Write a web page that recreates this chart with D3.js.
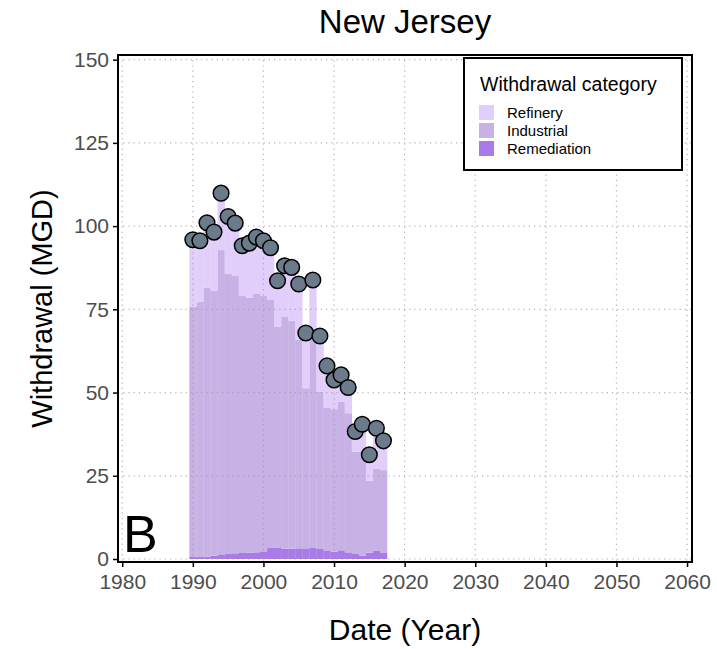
<!DOCTYPE html>
<html>
<head>
<meta charset="utf-8">
<script src="https://cdn.jsdelivr.net/npm/d3@7"></script>
<style>
  html, body { margin: 0; padding: 0; background: #fff; }
  svg { display: block; font-family: "Liberation Sans", Arial, sans-serif; }
</style>
</head>
<body>
<svg id="chart" width="717" height="649"></svg>
<script>
// Annual withdrawals (MGD) by category, New Jersey
const years = [1990, 1991, 1992, 1993, 1994, 1995, 1996, 1997, 1998, 1999,
               2000, 2001, 2002, 2003, 2004, 2005, 2006, 2007, 2008, 2009,
               2010, 2011, 2012, 2013, 2014, 2015, 2016, 2017];
const remediation = [0.6, 0.6, 0.7, 1.0, 1.2, 1.5, 1.7, 1.8, 1.9, 2.0,
                     2.3, 3.3, 3.3, 3.1, 3.1, 3.2, 3.2, 3.3, 3.0, 2.6,
                     2.2, 2.6, 2.0, 1.5, 1.0, 1.9, 2.4, 1.8];
const industrial = [75.2, 76.7, 80.8, 79.5, 91.6, 84.1, 83.3, 77.2, 76.6, 77.8,
                    76.7, 74.5, 66.5, 69.6, 68.5, 62.6, 48.1, 62.5, 47.3, 42.8,
                    42.8, 44.7, 41.8, 30.7, 31.2, 21.6, 24.8, 24.9];
const refinery = [20.1, 18.3, 19.5, 17.7, 17.1, 17.3, 15.9, 15.1, 16.4, 16.9,
                  16.6, 15.7, 13.8, 15.4, 16.0, 16.8, 16.6, 18.0, 16.7, 12.6,
                  8.8, 8.0, 7.7, 6.1, 8.3, 7.8, 12.1, 8.8];
const categories = ["Refinery", "Industrial", "Remediation"];
const xTicks = [1980, 1990, 2000, 2010, 2020, 2030, 2040, 2050, 2060];
const yTicks = [0, 25, 50, 75, 100, 125, 150];

const colors = { Refinery: "#e2cefb", Industrial: "#c8b2e5", Remediation: "#a97be6" };

const rows = years.map((yr, i) => ({
  year: yr,
  Remediation: remediation[i],
  Industrial: industrial[i],
  Refinery: refinery[i]
}));

const svg = d3.select("#chart");
const panel = { left: 118, right: 692, top: 55, bottom: 562 };

const x = d3.scaleLinear().domain([1979.4, 2060.7]).range([panel.left, panel.right]);
const y = d3.scaleLinear().domain([-0.9, 151.4]).range([panel.bottom, panel.top]);

// stack from the bottom up: remediation, industrial, refinery
const stack = d3.stack().keys(["Remediation", "Industrial", "Refinery"]);
const layers = stack(rows);

// bars
const barG = svg.append("g");
layers.forEach(layer => {
  barG.append("g")
    .attr("fill", colors[layer.key])
    .selectAll("rect")
    .data(layer)
    .join("rect")
    .attr("x", d => x(d.data.year - 0.5))
    .attr("width", d => x(d.data.year + 0.5) - x(d.data.year - 0.5) + 0.3)
    .attr("y", d => y(d[1]))
    .attr("height", d => y(d[0]) - y(d[1]));
});

// dotted major grid
const grid = svg.append("g")
  .attr("stroke", "#9a9a9a")
  .attr("stroke-width", 1.2)
  .attr("stroke-dasharray", "1.2,4")
  .attr("opacity", 0.75);
grid.selectAll("line.v").data(xTicks).join("line")
  .attr("class", "v")
  .attr("x1", d => x(d)).attr("x2", d => x(d))
  .attr("y1", panel.top).attr("y2", panel.bottom);
grid.selectAll("line.h").data(yTicks).join("line")
  .attr("class", "h")
  .attr("x1", panel.left).attr("x2", panel.right)
  .attr("y1", d => y(d)).attr("y2", d => y(d));

// total withdrawal points on top of the stacks
const totalLayer = layers[layers.length - 1];
svg.append("g")
  .selectAll("circle")
  .data(totalLayer)
  .join("circle")
  .attr("cx", d => x(d.data.year))
  .attr("cy", d => y(d[1]))
  .attr("r", 7.8)
  .attr("fill", "#6b7b8b")
  .attr("stroke", "#000")
  .attr("stroke-width", 1.5);

// panel border
svg.append("rect")
  .attr("x", panel.left).attr("y", panel.top)
  .attr("width", panel.right - panel.left)
  .attr("height", panel.bottom - panel.top)
  .attr("fill", "none")
  .attr("stroke", "#000")
  .attr("stroke-width", 2);

// axes
const yAxis = svg.append("g")
  .attr("transform", `translate(${panel.left},0)`)
  .call(d3.axisLeft(y).tickValues(yTicks).tickSize(5).tickPadding(4));
const xAxis = svg.append("g")
  .attr("transform", `translate(0,${panel.bottom})`)
  .call(d3.axisBottom(x).tickValues(xTicks).tickFormat(d3.format("d")).tickSize(5).tickPadding(7));
[yAxis, xAxis].forEach(g => {
  g.select(".domain").remove();
  g.selectAll(".tick line").attr("stroke", "#000").attr("stroke-width", 1.5);
  g.selectAll(".tick text")
    .attr("fill", "#4d4d4d")
    .style("font-size", "21px")
    .style("font-family", "'Liberation Sans', Arial, sans-serif");
});

// titles
svg.append("text")
  .attr("x", 405).attr("y", 33)
  .attr("text-anchor", "middle")
  .style("font-size", "33px")
  .text("New Jersey");
svg.append("text")
  .attr("x", 405).attr("y", 640)
  .attr("text-anchor", "middle")
  .style("font-size", "30px")
  .text("Date (Year)");
svg.append("text")
  .attr("transform", `translate(52,${(panel.top + panel.bottom) / 2}) rotate(-90)`)
  .attr("text-anchor", "middle")
  .style("font-size", "29px")
  .text("Withdrawal (MGD)");

// panel tag
svg.append("text")
  .attr("x", 123).attr("y", 552)
  .style("font-size", "52px")
  .text("B");

// legend
const lg = svg.append("g").attr("transform", "translate(464,58)");
lg.append("rect")
  .attr("width", 218).attr("height", 112)
  .attr("fill", "#fff")
  .attr("stroke", "#000")
  .attr("stroke-width", 2);
lg.append("text")
  .attr("x", 16).attr("y", 33)
  .style("font-size", "19.5px")
  .text("Withdrawal category");
categories.forEach((c, i) => {
  lg.append("rect")
    .attr("x", 15).attr("y", 47 + i * 18)
    .attr("width", 15).attr("height", 15)
    .attr("fill", colors[c]);
  lg.append("text")
    .attr("x", 43).attr("y", 60 + i * 18)
    .style("font-size", "15px")
    .text(c);
});
</script>
</body>
</html>
